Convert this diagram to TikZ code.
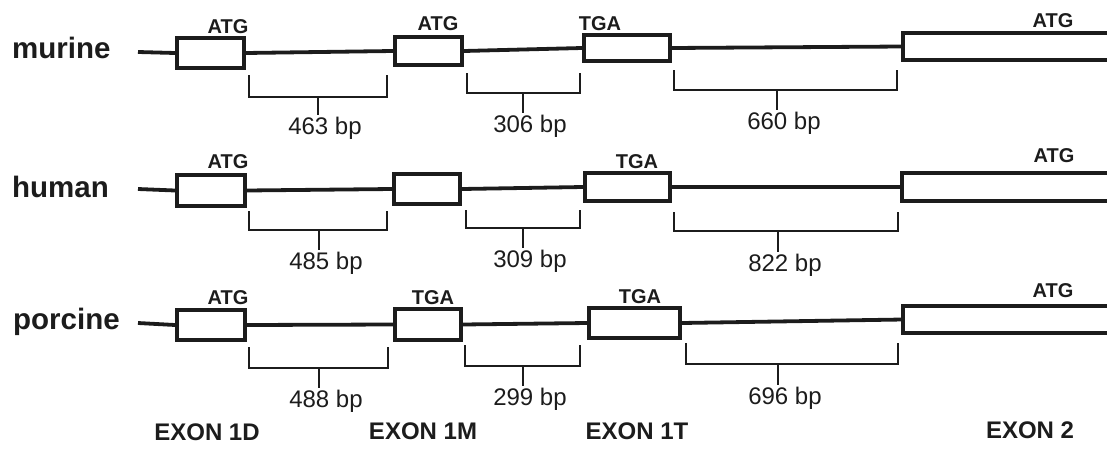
\documentclass[tikz,border=0pt]{standalone}
\usepackage{fontspec}
\setmainfont{Liberation Sans}
\definecolor{ink}{HTML}{1C1C1C}
% intron span: name, left x, right x, top y, bottom y, tick x, tick end y, text
\newcommand{\spanbp}[8]{%
  \draw[bracket] (#2,#4) -- (#2,#5) -- (#3,#5) -- (#3,#4);
  \draw[bracket] (#6,#5) -- (#6,#7);
  \node[bplabel] (#1) at (#6+7,#7+13) {#8};
}
\begin{document}
\begin{tikzpicture}[x=1pt,y=-1pt,
  exon/.style={draw=ink, line width=4pt, fill=white, inner sep=0pt, line join=miter},
  exontwo/.style={inner sep=0pt, minimum width=207pt},
  exonline/.style={draw=ink, line width=4pt, line join=miter},
  gene/.style={draw=ink, line width=3.8pt},
  bracket/.style={draw=ink, line width=1.7pt},
  codon/.style={text=ink, font=\fontsize{20}{20}\selectfont\bfseries, inner sep=0pt},
  species/.style={text=ink, font=\fontsize{29.5}{29.5}\selectfont\bfseries, inner sep=0pt, anchor=west},
  bplabel/.style={text=ink, font=\fontsize{24}{24}\selectfont, inner sep=0pt},
  exonname/.style={text=ink, font=\fontsize{24}{24}\selectfont\bfseries, inner sep=0pt}]
\useasboundingbox (0,0) rectangle (1107,450);

% ---------- murine ----------
\node[species] (mname) at (12,48) {murine};
\coordinate (mstart) at (138,52);
\node[exon, minimum width=67pt, minimum height=30pt] (md) at (210.5,53) {};
\node[exon, minimum width=67pt, minimum height=28pt] (mm) at (428.5,51) {};
\node[exon, minimum width=86pt, minimum height=26pt] (mt) at (627,48) {};
\node[exontwo, minimum height=27pt] (me) at (1006.5,46.5) {};
\draw[gene] (mstart) -- (md.west);
\draw[gene] (md.east) -- (mm.west);
\draw[gene] (mm.east) -- (mt.west);
\draw[gene] (mt.east) -- (me.west);
\draw[exonline] (me.north east) -- (me.north west) -- (me.south west) -- (me.south east);
\node[codon] (mdc) at (228,27) {ATG};
\node[codon] (mmc) at (438,24) {ATG};
\node[codon] (mtc) at (600,24) {TGA};
\node[codon] (mec) at (1053,21) {ATG};
\spanbp{mg1}{249}{387}{75}{97}{318}{115}{463 bp}
\spanbp{mg2}{467}{580}{73}{93}{523}{113}{306 bp}
\spanbp{mg3}{674}{897}{70}{90}{777}{110}{660 bp}

% ---------- human ----------
\node[species] (hname) at (12,187) {human};
\coordinate (hstart) at (138,189);
\node[exon, minimum width=68pt, minimum height=31pt] (hd) at (211,190.5) {};
\node[exon, minimum width=66pt, minimum height=30pt] (hm) at (427,189) {};
\node[exon, minimum width=85pt, minimum height=28pt] (ht) at (627.5,187) {};
\node[exontwo, minimum height=28pt] (he) at (1006,187) {};
\draw[gene] (hstart) -- (hd.west);
\draw[gene] (hd.east) -- (hm.west);
\draw[gene] (hm.east) -- (ht.west);
\draw[gene] (ht.east) -- (he.west);
\draw[exonline] (he.north east) -- (he.north west) -- (he.south west) -- (he.south east);
\node[codon] (hdc) at (228,162) {ATG};
\node[codon] (htc) at (637,162) {TGA};
\node[codon] (hec) at (1054,156) {ATG};
\spanbp{hg1}{249}{387}{211}{230}{319}{250}{485 bp}
\spanbp{hg2}{466}{580}{210}{228}{523}{248}{309 bp}
\spanbp{hg3}{674}{898}{212}{231}{778}{252}{822 bp}

% ---------- porcine ----------
\node[species] (pname) at (13,322) {porcine};
\coordinate (pstart) at (138,323);
\node[exon, minimum width=68pt, minimum height=30pt] (pd) at (211,325) {};
\node[exon, minimum width=66pt, minimum height=31pt] (pm) at (428,324.5) {};
\node[exon, minimum width=91pt, minimum height=30pt] (pt) at (634.5,323) {};
\node[exontwo, minimum height=27pt] (pe) at (1006.5,319.5) {};
\draw[gene] (pstart) -- (pd.west);
\draw[gene] (pd.east) -- (pm.west);
\draw[gene] (pm.east) -- (pt.west);
\draw[gene] (pt.east) -- (pe.west);
\draw[exonline] (pe.north east) -- (pe.north west) -- (pe.south west) -- (pe.south east);
\node[codon] (pdc) at (228,298) {ATG};
\node[codon] (pmc) at (433,298) {TGA};
\node[codon] (ptc) at (640,297) {TGA};
\node[codon] (pec) at (1053,291) {ATG};
\spanbp{pg1}{249}{388}{347}{368}{319}{388}{488 bp}
\spanbp{pg2}{465}{580}{345}{366}{523}{386}{299 bp}
\spanbp{pg3}{686}{898}{343}{364}{778}{385}{696 bp}

% ---------- exon names ----------
\node[exonname] (x1d) at (207,432) {EXON 1D};
\node[exonname] (x1m) at (423,431) {EXON 1M};
\node[exonname] (x1t) at (637,431) {EXON 1T};
\node[exonname] (x2) at (1030,430) {EXON 2};
\end{tikzpicture}
\end{document}
